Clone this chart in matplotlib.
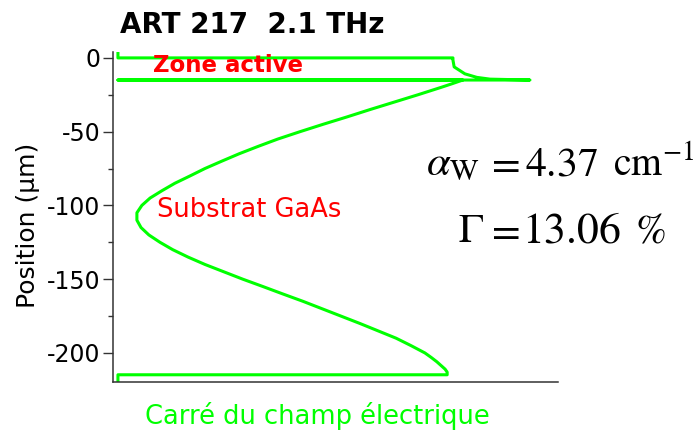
import matplotlib
matplotlib.use("Agg")
import matplotlib.pyplot as plt
from matplotlib.ticker import MultipleLocator

# Squared electric field profile (normalised) versus position in the waveguide:
# active region (0 to -15 um), then the GaAs substrate
position_um = [4.0, 0.0, 0.0, -1.4, -6.1, -10.8, -13.2, -14.4, -15.0, -15.0,
               -15.0, -17.5, -20.0, -25.0, -30.0, -35.0, -40.0, -45.0, -50.0,
               -55.0, -60.0, -65.0, -70.0, -75.0, -80.0, -85.0, -90.0, -95.0,
               -100.0, -105.0, -110.0, -115.0, -120.0, -125.0, -130.0, -135.0,
               -140.0, -145.0, -150.0, -155.0, -160.0, -165.0, -170.0, -175.0,
               -180.0, -185.0, -190.0, -195.0, -200.0, -203.0, -206.0, -209.0,
               -211.0, -213.0, -214.8, -214.8, -219.7]
field_sq = [0.0, 0.0, 0.813, 0.813, 0.816, 0.842, 0.871, 0.903, 1.0, 0.0,
            0.837, 0.811, 0.784, 0.728, 0.670, 0.612, 0.556, 0.498, 0.442,
            0.388, 0.340, 0.294, 0.252, 0.211, 0.175, 0.138, 0.107, 0.078,
            0.058, 0.046, 0.046, 0.056, 0.075, 0.102, 0.133, 0.170,
            0.211, 0.257, 0.303, 0.352, 0.400, 0.449, 0.495, 0.541,
            0.587, 0.631, 0.675, 0.711, 0.745, 0.760, 0.774, 0.786,
            0.794, 0.799, 0.799, 0.0, 0.0]

y_ticks = [0, -50, -100, -150, -200]
y_tick_labels = ["0", "-50", "-100", "-150", "-200"]

title_text = "ART 217  2.1 THz"

W, H = 696, 436
fig = plt.figure(figsize=(W / 100, H / 100), dpi=100)
plt.rcParams["mathtext.fontset"] = "stix"

ax = fig.add_axes([113 / W, 1 - 382 / H, (558 - 113) / W, (382 - 52) / H])
ax.plot(field_sq, position_um, color="#00ff00", lw=2.2, solid_joinstyle="round")

ax.set_xlim(-0.012, 1.068)
ax.set_ylim(-219.7, 4.0)

for side in ("top", "right"):
    ax.spines[side].set_visible(False)
for side in ("left", "bottom"):
    ax.spines[side].set_color("#333333")
    ax.spines[side].set_linewidth(1.1)

ax.set_xticks([])
ax.set_yticks(y_ticks)
ax.set_yticklabels(y_tick_labels)
ax.yaxis.set_minor_locator(MultipleLocator(25))
ax.tick_params(axis="y", which="major", length=7, width=1.0, color="#333333",
               labelsize=17, pad=2)
ax.tick_params(axis="y", which="minor", length=3.6, width=1.0, color="#333333")
for lab in ax.get_yticklabels():
    lab.set_fontfamily("DejaVu Sans")

fig.text(120 / W, 1 - 33 / H, title_text, fontsize=20, fontweight="bold",
         family="DejaVu Sans", ha="left", va="baseline")
fig.text(153 / W, 1 - 66 / H, "Zone active", fontsize=16.5, fontweight="bold",
         color="#ff0000", family="DejaVu Sans", ha="left", va="center")
fig.text(157 / W, 1 - 210 / H, "Substrat GaAs", fontsize=18.5,
         color="#ff0000", family="DejaVu Sans", ha="left", va="center")
fig.text(317.5 / W, 1 - 416 / H, "Carré du champ électrique", fontsize=18.5,
         color="#00ff00", family="DejaVu Sans", ha="center", va="center")
fig.text(28 / W, 1 - 225 / H, "Position (µm)", fontsize=18, rotation=90,
         family="DejaVu Sans", ha="center", va="center")


def put(x_px, base_px, s, size):
    fig.text(x_px / W, 1 - base_px / H, s, fontsize=size, ha="left", va="baseline")


# Waveguide loss line
put(426, 175, r"$\alpha_{\mathrm{W}}$", 31)
put(485, 175, r"$=$", 30)
put(525, 175, r"$4.37$", 30)
put(613, 175, r"$\mathrm{cm}^{-1}$", 28.5)
# Confinement factor line
put(458, 242, r"$\Gamma$", 30)
put(485, 242, r"$=$", 30)
put(522, 242, r"$13.06$", 31.5)
put(635, 242, r"$\%$", 30)

fig.savefig("out.png", dpi=100)
